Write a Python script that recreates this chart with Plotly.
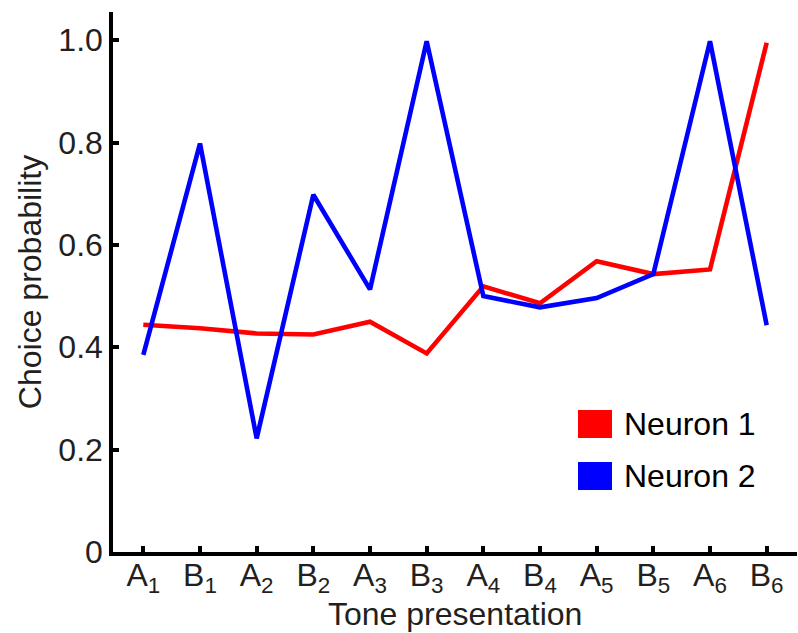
import plotly.graph_objects as go

cat_letters = ["A", "B", "A", "B", "A", "B", "A", "B", "A", "B", "A", "B"]
cat_index = ["1", "1", "2", "2", "3", "3", "4", "4", "5", "5", "6", "6"]
neuron1 = [0.444, 0.437, 0.427, 0.425, 0.450, 0.388, 0.519, 0.486, 0.568, 0.543, 0.552, 0.995]
neuron2 = [0.385, 0.798, 0.222, 0.698, 0.513, 0.998, 0.500, 0.478, 0.496, 0.543, 0.998, 0.443]
y_ticks = [0, 0.2, 0.4, 0.6, 0.8, 1.0]
y_ticktext = ["0", "0.2", "0.4", "0.6", "0.8", "1.0"]
series_names = ["Neuron 1", "Neuron 2"]
series_colors = ["#ff0000", "#0000ff"]

categories = [f"{l}<sub>{n}</sub>" for l, n in zip(cat_letters, cat_index)]
x = list(range(len(categories)))
FONT = "Liberation Sans, Arial, sans-serif"
FS = 32

fig = go.Figure()
for name, vals, col in zip(series_names, [neuron1, neuron2], series_colors):
    fig.add_trace(go.Scatter(x=x, y=vals, mode="lines", name=name,
                             line=dict(color=col, width=4.6), showlegend=False))

# manual legend (square swatches)
for i, (name, col) in enumerate(zip(series_names, series_colors)):
    y0 = 410 + i * 52
    fig.add_shape(type="rect", xref="paper", yref="paper",
                  x0=(578 - 113) / 684, x1=(612 - 113) / 684,
                  y0=(552 - (y0 + 28)) / 540, y1=(552 - y0) / 540,
                  fillcolor=col, line=dict(width=0))
    fig.add_annotation(xref="paper", yref="paper", x=(622 - 113) / 684,
                       y=(552 - (y0 + 14)) / 540, text=name, showarrow=False,
                       xanchor="left", yanchor="middle",
                       font=dict(family=FONT, size=FS, color="#000"))

# x-axis title as annotation (fixed position)
fig.add_annotation(xref="paper", yref="paper", x=0.5, y=(552 - 633) / 540,
                   text="Tone presentation", showarrow=False,
                   xanchor="center", yanchor="bottom", borderpad=0,
                   font=dict(family=FONT, size=FS, color="#231f20"))

fig.update_layout(
    width=798, height=633,
    margin=dict(l=113, r=1, t=12, b=81),
    plot_bgcolor="white", paper_bgcolor="white",
    font=dict(family=FONT, size=FS, color="#231f20"),
    xaxis=dict(range=[-0.535, 11.535], tickvals=x, ticktext=categories,
               showgrid=False, zeroline=False, showline=True, linecolor="black", linewidth=3.5,
               ticks="inside", ticklen=6, tickwidth=3.5, tickcolor="black",
               ticklabelstandoff=-8),
    yaxis=dict(range=[0, 1.055], tickvals=y_ticks, ticktext=y_ticktext,
               showgrid=False, zeroline=False, showline=True, linecolor="black", linewidth=3.5,
               ticks="inside", ticklen=6, tickwidth=3.5, tickcolor="black",
               ticklabelstandoff=0,
               title=dict(text="Choice probability", standoff=8, font=dict(size=FS))),
)

fig.write_html("out.html")
